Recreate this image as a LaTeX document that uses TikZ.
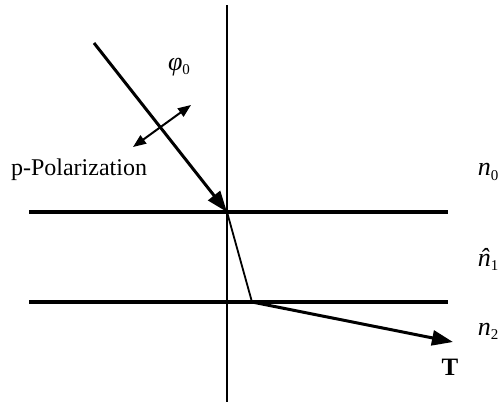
\documentclass[tikz,border=0pt]{standalone}
\usepackage{fontspec}
\setmainfont{Liberation Serif}
\usetikzlibrary{arrows.meta}
\newcommand{\lsub}[1]{\raisebox{-0.35ex}{\fontsize{15}{17}\selectfont #1}}
\newcommand{\nhat}{\ooalign{\textit{n}\cr\hidewidth\kern1pt\textit{\char"02C6}\hidewidth\cr}}
\begin{document}
\begin{tikzpicture}[x=1pt,y=-1pt,
  interface/.style={line width=4pt},
  normalline/.style={line width=1.8pt},
  ray/.style={line width=3pt,-{Triangle[length=21pt,width=15pt]}},
  thinray/.style={line width=1.8pt},
  polar/.style={line width=2pt,{Triangle[length=13pt,width=10pt]}-{Triangle[length=13pt,width=10pt]}},
  lbl/.style={inner sep=0pt,font=\fontsize{24}{28}\selectfont},
  mlbl/.style={inner sep=0pt,font=\fontsize{26}{30}\selectfont}]
\useasboundingbox (0,0) rectangle (499,402);
% coordinates
\coordinate (ntop) at (227,5);
\coordinate (nbot) at (227,402);
\coordinate (i1l) at (29,212);
\coordinate (i1r) at (448,212);
\coordinate (i2l) at (29,302);
\coordinate (i2r) at (448,302);
\coordinate (src) at (94,43);
\coordinate (hit) at (227,212);
\coordinate (exit) at (252,302);
\coordinate (tip) at (453,342);
\coordinate (pa) at (133,147);
\coordinate (pb) at (191,105);
% lines
\draw[normalline] (ntop) -- (nbot);
\draw[interface] (i1l) -- (i1r);
\draw[interface] (i2l) -- (i2r);
\draw[ray] (src) -- (hit);
\draw[thinray] (hit) -- (exit);
\draw[ray] (exit) -- (tip);
\draw[polar] (pa) -- (pb);
% labels
\node[mlbl] (phi) at (179,67) {\textit{φ}\lsub{0}};
\node[lbl] (pol) at (79,170) {p-Polarization};
\node[mlbl] (n0) at (488,172) {\textit{n}\lsub{0}};
\node[mlbl] (n1) at (488,262) {\nhat\lsub{1}};
\node[mlbl] (n2) at (488,331) {\textit{n}\lsub{2}};
\node[lbl,font=\fontsize{25}{28}\selectfont\bfseries] (T) at (450,367) {T};
\end{tikzpicture}
\end{document}
